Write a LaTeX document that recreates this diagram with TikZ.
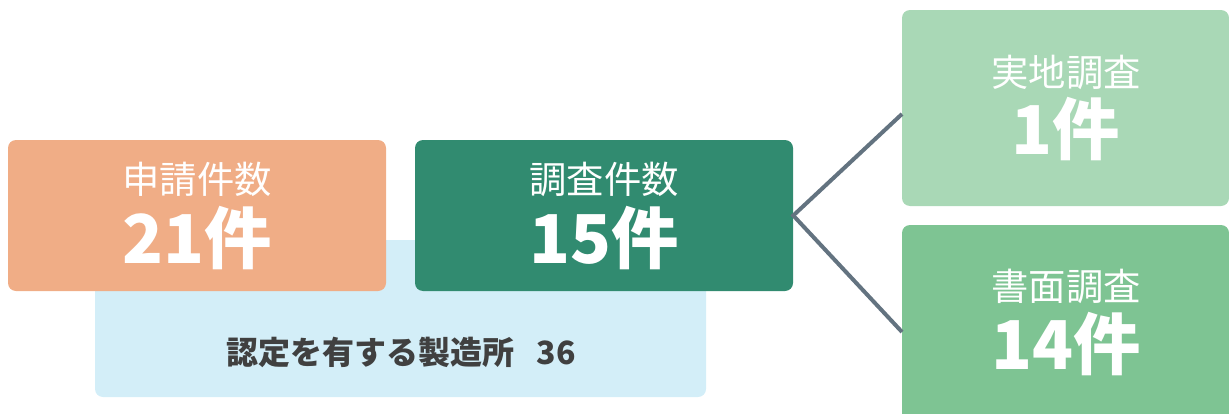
\documentclass[tikz,border=0pt]{standalone}
\usepackage{fontspec}
\newfontfamily\jp{Noto Sans CJK JP}
\definecolor{cOrange}{HTML}{F0AD86}
\definecolor{cDark}{HTML}{318B70}
\definecolor{cLight}{HTML}{A9D8B6}
\definecolor{cMid}{HTML}{7EC493}
\definecolor{cBlue}{HTML}{D3EEF8}
\definecolor{cLine}{HTML}{637380}
\definecolor{cText}{HTML}{404040}
\begin{document}
\begin{tikzpicture}[x=0.75pt,y=-0.75pt,
  box/.style={rounded corners=6pt, inner sep=0pt, draw=none},
  small/.style={text=white, font=\jp\fontsize{28}{32}\selectfont, inner sep=0pt},
  big/.style={text=white, font=\jp\bfseries\fontsize{50.5}{54}\selectfont, inner sep=0pt},
  conn/.style={draw=cLine, line width=3pt}]
\useasboundingbox (0,0) rectangle (1229,414);
% background light blue
\node[box, fill=cBlue, minimum width=458.25pt, minimum height=117.75pt] (base) at (400.5,318.5) {};
\node[text=cText, font=\jp\bfseries\fontsize{24}{28}\selectfont, inner sep=0pt] (baselbl) at (401,352) {認定を有する製造所\hspace{0.7em}36};
% orange
\node[box, fill=cOrange, minimum width=283.5pt, minimum height=113.25pt] (app) at (197,215.5) {};
\node[small] (applbl) at (197,179) {申請件数};
\node[big] (appnum) at (197,238) {21件};
% dark green
\node[box, fill=cDark, minimum width=283.5pt, minimum height=113.25pt] (inv) at (604,215.5) {};
\node[small] (invlbl) at (604,179) {調査件数};
\node[big] (invnum) at (604,238) {15件};
% top right
\node[box, fill=cLight, minimum width=245.25pt, minimum height=147pt] (site) at (1065.5,108) {};
\node[small] (sitelbl) at (1066,72) {実地調査};
\node[big] (sitenum) at (1066,129) {1件};
% bottom right
\begin{scope}
\clip (0,0) rectangle (1229,414);
\node[box, fill=cMid, minimum width=245.25pt, minimum height=150pt] (doc) at (1065.5,325) {};
\end{scope}
\node[small] (doclbl) at (1066,286) {書面調査};
\node[big] (docnum) at (1066,344) {14件};
% connectors
\coordinate (sitein) at (902,114);
\coordinate (docin) at (902,332);
\draw[conn] (sitein) -- (inv.east) -- (docin);
\end{tikzpicture}
\end{document}
